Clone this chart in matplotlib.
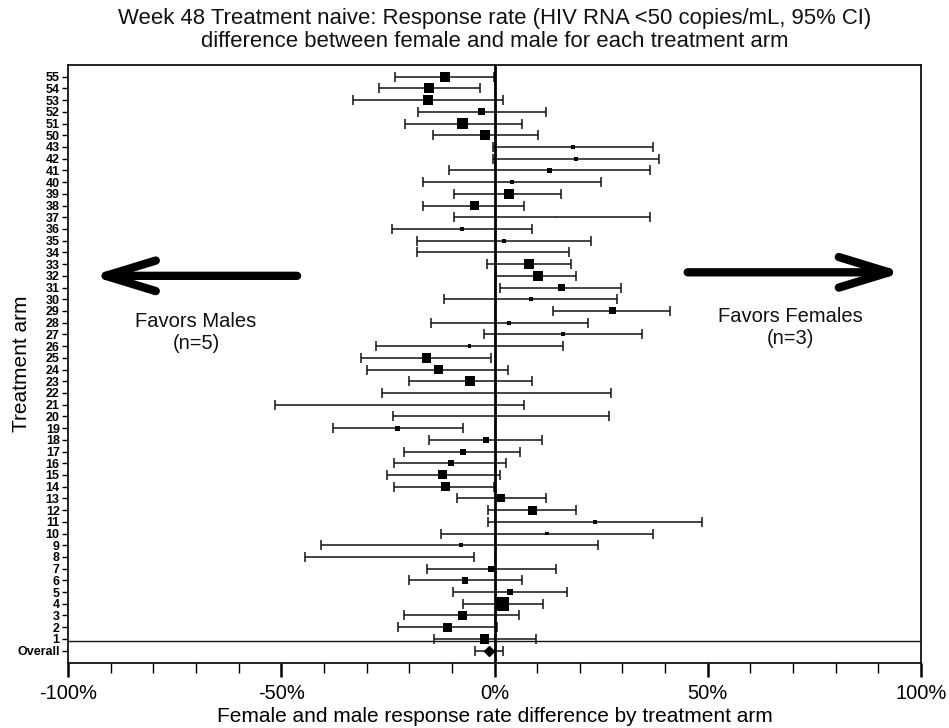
import matplotlib
matplotlib.use("Agg")
import matplotlib.pyplot as plt
from matplotlib.ticker import MultipleLocator, FuncFormatter
import numpy as np

plt.rcParams['font.family'] = ['Liberation Sans', 'DejaVu Sans']

# treatment arms, top to bottom
arms = ['55', '54', '53', '52', '51', '50', '43', '42', '41', '40', '39', '38', '37', '36',
        '35', '34', '33', '32', '31', '30', '29', '28', '27', '26', '25', '24', '23', '22',
        '21', '20', '19', '18', '17', '16', '15', '14', '13', '12', '11', '10', '9', '8',
        '7', '6', '5', '4', '3', '2', '1']

# response rate difference (female - male), %, with 95% CI
diff = [-11.6, -15.4, -15.7, -3.0, -7.4, -2.2, 18.5, 19.0, 12.9, 4.0, 3.3, -4.6, 14.3, -7.6,
        2.2, 0.4, 8.2, 10.1, 15.7, 8.6, 27.7, 3.5, 16.0, -5.9, -15.9, -13.2, -5.7, 0.5,
        -22.3, 1.5, -22.7, -2.0, -7.5, -10.3, -12.1, -11.4, 1.6, 9.0, 23.5, 12.3, -7.9, -24.6,
        -0.9, -6.9, 3.6, 1.8, -7.6, -11.1, -2.3]
ci_low = [-23.3, -27.2, -33.2, -17.9, -21.1, -14.5, -0.4, -0.4, -10.7, -16.8, -9.4, -16.7, -9.4, -24.0,
          -18.2, -18.2, -1.7, 0.4, 1.4, -11.9, 13.6, -15.0, -2.5, -27.8, -31.3, -29.9, -20.1, -26.3,
          -51.5, -23.8, -37.9, -15.3, -21.2, -23.5, -25.1, -23.5, -8.8, -1.5, -1.5, -12.5, -40.7, -44.5,
          -15.9, -20.1, -9.7, -7.5, -21.3, -22.7, -14.3]
ci_high = [-0.2, -3.4, 1.9, 12.0, 6.5, 10.1, 37.1, 38.6, 36.5, 24.9, 15.6, 6.9, 36.5, 8.8,
           22.7, 17.4, 18.0, 19.1, 29.6, 28.8, 41.1, 21.9, 34.5, 16.0, -0.9, 3.2, 8.9, 27.4,
           6.9, 26.9, -7.5, 11.2, 5.9, 2.6, 1.4, -0.2, 12.1, 19.2, 48.7, 37.1, 24.2, -4.8,
           14.4, 6.5, 16.9, 11.4, 5.7, 0.5, 9.7]
# relative weight of each arm (box size)
weight = [10, 10, 10, 7, 11, 10, 4, 4, 4.5, 4, 10, 9, 1.5, 4,
          4, 1, 10, 10, 7, 4, 7, 4, 4, 3.5, 9.5, 9, 9.5, 0,
          0, 0, 5, 5.5, 6, 6, 9, 9, 8, 9, 4, 3.5, 3.5, 0,
          6, 6.5, 6.5, 14, 9, 9, 9.5]

overall = -1.2
overall_low = -4.5
overall_high = 1.9

ypos = np.arange(len(arms), 0, -1)

fig = plt.figure(figsize=(9.49, 7.28), dpi=100)
ax = fig.add_axes([0.0717, 0.0897, 0.8988, 0.821])

ink = '#111111'
diff = np.array(diff)
lo = np.array(ci_low)
hi = np.array(ci_high)
ax.errorbar(diff, ypos, xerr=[diff - lo, hi - diff], fmt='none', ecolor=ink,
            elinewidth=1.1, capsize=3.3, capthick=1.1, zorder=3)
w = np.array(weight)
ax.scatter(diff[w > 0], ypos[w > 0], s=(w[w > 0] * 0.72) ** 2, marker='s',
           color='black', linewidths=0, zorder=4)

ax.errorbar([overall], [0], xerr=[[overall - overall_low], [overall_high - overall]],
            fmt='none', ecolor=ink, elinewidth=1.1, capsize=3.3, capthick=1.1, zorder=3)
ax.scatter([overall], [0], s=(7 * 0.72) ** 2, marker='D', color='black', zorder=4)

ax.axvline(0, color='black', lw=2.0, zorder=5)
ax.axhline(0.8, color=ink, lw=1.0, zorder=2)

ax.set_xlim(-100, 100)
ax.set_ylim(-1.03, len(arms) + 1)
ax.set_yticks(list(ypos) + [0])
ax.set_yticklabels(arms + ['Overall'], fontsize=9, fontweight='bold')
ax.tick_params(axis='y', length=4, width=1, pad=2)

ax.xaxis.set_major_locator(MultipleLocator(50))
ax.xaxis.set_minor_locator(MultipleLocator(10))
ax.xaxis.set_major_formatter(FuncFormatter(lambda v, p: '%d%%' % v))
ax.tick_params(axis='x', which='major', length=10, width=1.8, labelsize=14.5, pad=5)
ax.tick_params(axis='x', which='minor', length=7, width=1.0)

for s in ax.spines.values():
    s.set_linewidth(1.3)
    s.set_color(ink)

ax.set_xlabel('Female and male response rate difference by treatment arm', fontsize=15, labelpad=3)
ax.set_ylabel('Treatment arm', fontsize=15)
ax.yaxis.set_label_coords(-0.044, 0.5)
ax.set_title('Week 48 Treatment naive: Response rate (HIV RNA <50 copies/mL, 95% CI)\n'
             'difference between female and male for each treatment arm',
             fontsize=15.9, pad=13, color='#111111', linespacing=1.15)

arrow = dict(arrowstyle='->,head_length=1.8,head_width=0.55', lw=6,
             color='black', capstyle='round', joinstyle='round', mutation_scale=20,
             shrinkA=0, shrinkB=0)
ax.annotate('', xy=(-94.5, 32), xytext=(-46.3, 32), arrowprops=arrow)
ax.annotate('', xy=(95.8, 32.3), xytext=(45.3, 32.3), arrowprops=arrow)
ax.text(-70, 27.2, 'Favors Males\n(n=5)', ha='center', va='center', fontsize=14.5,
        linespacing=1.2, color='#111111')
ax.text(69.3, 27.6, 'Favors Females\n(n=3)', ha='center', va='center', fontsize=14.5,
        linespacing=1.2, color='#111111')

fig.savefig('out.png', dpi=100)
